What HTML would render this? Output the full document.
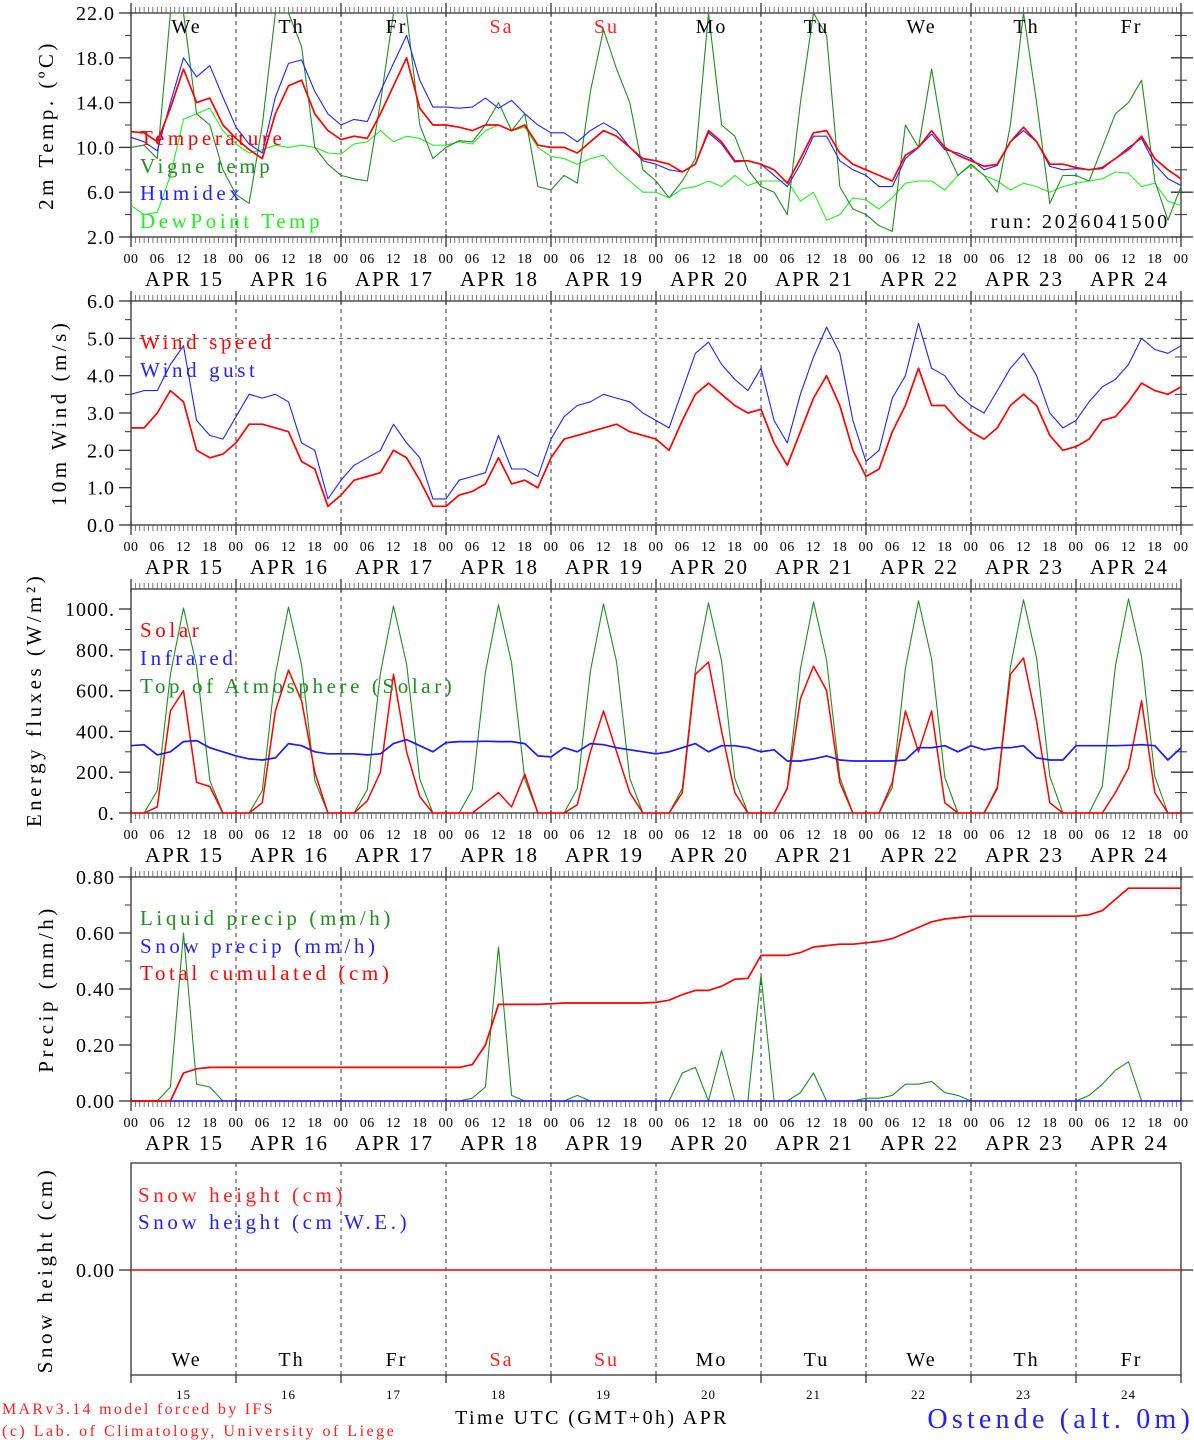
<!DOCTYPE html>
<html><head><meta charset="utf-8"><title>Ostende meteogram</title>
<style>
html,body{margin:0;padding:0;background:#fff;}
svg{display:block;font-family:"Liberation Serif","DejaVu Serif",serif;}
</style></head>
<body>
<svg id="chart" width="1194" height="1440" viewBox="0 0 1194 1440" xmlns="http://www.w3.org/2000/svg"></svg>
<script>
// ---- data (3-hourly from APR 15 00 UTC) ----
const dates = ["APR 15","APR 16","APR 17","APR 18","APR 19","APR 20","APR 21","APR 22","APR 23","APR 24"];
const dayNames = ["We","Th","Fr","Sa","Su","Mo","Tu","We","Th","Fr"];
const dayNums = ["15","16","17","18","19","20","21","22","23","24"];
const hourLabels = ["00","06","12","18"];
const tempTicks = [2,6,10,14,18,22];
const windTicks = [0,1,2,3,4,5,6];
const fluxTicks = [0,200,400,600,800,1000];
const precipTicks = [0,0.2,0.4,0.6,0.8];

const temperature = [11.4,11.3,10.5,13.5,17.0,14.0,14.4,12.0, 10.8,9.8,9.0,13.0,15.5,16.0,13.0,11.5, 10.7,11.0,10.8,13.0,15.5,18.0,13.5,12.0, 12.0,11.8,11.5,12.0,12.0,11.5,12.0,10.2, 10.0,10.0,9.5,10.5,11.5,11.0,10.0,9.0, 8.8,8.5,7.8,8.5,11.5,10.5,8.8,8.8, 8.5,8.0,6.8,9.0,11.3,11.5,9.5,8.5, 8.0,7.5,7.0,9.3,10.0,11.5,10.0,9.3, 8.8,8.3,8.5,10.5,11.8,10.5,8.5,8.5, 8.2,8.0,8.2,9.0,9.8,11.0,9.0,8.0,7.2];
const humidex = [10.9,10.5,9.7,14.0,18.0,16.3,17.3,14.5, 11.8,10.3,9.5,14.5,17.5,17.8,15.0,13.0, 12.0,12.5,12.3,15.0,17.5,20.0,16.0,13.6, 13.6,13.5,13.6,14.4,13.5,14.2,13.0,12.0, 11.3,11.3,10.5,11.5,12.2,11.5,10.0,8.8, 8.5,8.0,7.8,8.5,11.3,10.3,8.7,8.8, 8.5,7.5,6.5,8.5,11.0,11.0,8.8,8.0, 7.5,6.5,6.5,9.0,10.0,11.2,9.8,9.5, 9.0,8.0,8.4,10.5,11.5,10.5,8.3,8.0, 8.1,8.0,8.1,9.0,10.0,10.8,8.5,7.2,6.6];
const vigneTemp = [10.0,10.2,9.0,24,24,13.0,12.0,8.0, 5.8,5.0,12.0,24,24,19.0,10.0,8.5, 7.5,7.2,7.0,14.0,22.0,24,12.0,9.0, 10.0,10.6,10.5,12.0,14.0,11.5,13.0,6.5, 6.2,7.5,6.8,15.0,20.5,17.0,14.0,8.0, 7.0,5.5,7.0,9.0,24,12.0,11.0,8.0, 6.5,6.0,4.0,14.0,24,20.0,6.5,4.5, 4.0,3.0,2.5,12.0,10.0,17.0,10.0,7.5, 8.5,7.5,6.0,12.0,24,14.0,5.0,7.5, 7.5,7.0,10.0,13.0,14.0,16.0,7.0,3.5,6.5];
const dewPoint = [4.8,4.0,4.2,7.5,12.5,13.0,13.5,11.5, 10.3,9.5,9.8,10.2,10.0,10.2,10.0,9.5, 9.4,10.3,10.5,11.5,10.5,11.0,10.8,10.2, 10.2,10.5,10.3,11.5,12.0,11.5,11.8,10.0, 9.2,9.0,8.5,9.0,9.3,8.0,7.0,6.0, 6.0,5.5,6.3,6.5,7.0,6.5,7.5,6.6, 7.0,7.0,7.0,5.2,6.0,3.5,4.0,5.5, 5.3,4.5,5.5,6.8,7.0,7.0,6.2,7.5, 8.4,7.5,7.0,6.2,6.8,6.5,6.0,6.5, 6.8,7.0,7.2,7.8,7.7,6.5,6.8,5.2,4.8];

const windSpeed = [2.6,2.6,3.0,3.6,3.3,2.0,1.8,1.9, 2.2,2.7,2.7,2.6,2.5,1.7,1.5,0.5, 0.8,1.2,1.3,1.4,2.0,1.8,1.2,0.5, 0.5,0.8,0.9,1.1,1.8,1.1,1.2,1.0, 1.8,2.3,2.4,2.5,2.6,2.7,2.5,2.4, 2.3,2.0,2.8,3.5,3.8,3.5,3.2,3.0, 3.1,2.2,1.6,2.5,3.4,4.0,3.2,2.0, 1.3,1.5,2.5,3.2,4.2,3.2,3.2,2.8, 2.5,2.3,2.6,3.2,3.5,3.2,2.4,2.0, 2.1,2.3,2.8,2.9,3.3,3.8,3.6,3.5,3.7];
const windGust = [3.5,3.6,3.6,4.3,4.8,2.8,2.4,2.3, 2.9,3.5,3.4,3.5,3.3,2.2,2.0,0.7, 1.2,1.6,1.8,2.0,2.7,2.2,1.8,0.7, 0.7,1.2,1.3,1.4,2.4,1.5,1.5,1.3, 2.3,2.9,3.2,3.3,3.5,3.4,3.3,3.0, 2.8,2.6,3.6,4.6,4.9,4.3,3.9,3.6, 4.2,2.8,2.2,3.5,4.5,5.3,4.6,2.8, 1.7,2.0,3.4,4.0,5.4,4.2,4.0,3.5, 3.2,3.0,3.6,4.2,4.6,4.0,3.0,2.6, 2.8,3.3,3.7,3.9,4.3,5.0,4.7,4.6,4.8];

const solar = [0,0,30,500,600,150,130,0, 0,0,50,500,700,550,200,0, 0,0,60,200,680,300,80,0, 0,0,0,50,100,30,190,0, 0,0,40,300,500,300,100,0, 0,0,100,680,740,400,100,0, 0,0,120,560,720,600,150,0, 0,0,150,500,300,500,50,0, 0,0,120,680,760,450,50,0, 0,0,0,100,220,550,100,0,0];
const infrared = [330,335,285,300,350,355,320,300, 280,265,260,270,340,330,300,290, 290,290,285,290,340,360,330,300, 345,350,350,352,350,350,340,280, 275,320,300,340,335,320,310,300, 290,300,320,340,300,330,330,320, 300,310,255,255,265,280,260,255, 255,255,255,260,320,320,330,300, 330,310,320,320,330,270,260,260, 330,330,330,330,332,335,330,260,320];
const toaSolar = [0,0,110,680,1005,720,160,0, 0,0,110,680,1010,725,160,0, 0,0,115,685,1015,730,165,0, 0,0,115,690,1020,735,165,0, 0,0,120,695,1025,740,170,0, 0,0,120,700,1030,745,170,0, 0,0,125,705,1035,750,175,0, 0,0,125,710,1040,755,175,0, 0,0,130,715,1045,760,180,0, 0,0,130,720,1050,765,180,0,0];

const liquidPrecip = [0,0,0,0.05,0.6,0.06,0.05,0, 0,0,0,0,0,0,0,0, 0,0,0,0,0,0,0,0, 0,0,0.01,0.05,0.55,0.02,0,0, 0,0,0.02,0,0,0,0,0, 0,0,0.1,0.12,0,0.18,0,0, 0.45,0,0,0.03,0.1,0,0,0, 0.01,0.01,0.02,0.06,0.06,0.07,0.03,0.02, 0,0,0,0,0,0,0,0, 0,0.02,0.06,0.11,0.14,0,0,0,0];
const snowPrecip = new Array(81).fill(0);
const totalCum = [0,0,0,0,0.1,0.115,0.12,0.12, 0.12,0.12,0.12,0.12,0.12,0.12,0.12,0.12, 0.12,0.12,0.12,0.12,0.12,0.12,0.12,0.12, 0.12,0.12,0.13,0.2,0.345,0.345,0.345,0.345, 0.347,0.35,0.35,0.35,0.35,0.35,0.35,0.35, 0.352,0.36,0.38,0.395,0.395,0.41,0.435,0.438, 0.52,0.52,0.52,0.53,0.55,0.555,0.56,0.56, 0.565,0.57,0.58,0.6,0.62,0.64,0.65,0.655, 0.66,0.66,0.66,0.66,0.66,0.66,0.66,0.66, 0.66,0.665,0.68,0.72,0.76,0.76,0.76,0.76,0.76];
const snowHeight = new Array(81).fill(0);

// ---- layout ----
const NS="http://www.w3.org/2000/svg";
const svg=document.getElementById('chart');
const X0=131, X1=1181, DAYW=105;
const STEP=3;
function xh(h){return X0+h*DAYW/24;}
function el(tag,attrs,parent){const e=document.createElementNS(NS,tag);for(const k in attrs)e.setAttribute(k,attrs[k]);(parent||svg).appendChild(e);return e;}
function txt(s,x,y,size,color,anchor,parent,ls){const t=el('text',{x:x,y:y,'font-size':size,fill:color,'text-anchor':anchor||'start'},parent);if(ls)t.setAttribute('letter-spacing',ls);t.textContent=s;return t;}
function makeY(v0,p0,v1,p1){return v=>p0+(v-v0)*(p1-p0)/(v1-v0);}

const panels=[
 {name:'temp',top:13,bot:237,y:makeY(2,237,22,13)},
 {name:'wind',top:301,bot:525,y:makeY(0,525,6,301)},
 {name:'flux',top:589,bot:813,y:makeY(0,813,1000,609)},
 {name:'precip',top:877,bot:1101,y:makeY(0,1101,0.8,877)},
 {name:'snow',top:1163,bot:1375,y:v=>1270}
];

function frame(p,hourTicks){
  const g=el('g',{});
  
  
  el('rect',{x:X0,y:p.top,width:X1-X0,height:p.bot-p.top,fill:'none',stroke:'#333','stroke-width':1.3},g);
  for(let d=1;d<10;d++){
    el('line',{x1:xh(d*24),y1:p.top,x2:xh(d*24),y2:p.bot,stroke:'#333','stroke-width':1,'stroke-dasharray':'4,4'},g);
  }
  if(hourTicks){
    for(let h=0;h<=240;h++){
      const x=xh(h);
      if(h%24===0){
        el('line',{x1:x,y1:p.top-10,x2:x,y2:p.top+3,stroke:'#333','stroke-width':1.3},g);
        el('line',{x1:x,y1:p.bot-3,x2:x,y2:p.bot+10,stroke:'#333','stroke-width':1.3},g);
      } else {
        el('line',{x1:x,y1:p.top,x2:x,y2:p.top-6,stroke:'#555','stroke-width':0.8},g);
        el('line',{x1:x,y1:p.bot,x2:x,y2:p.bot+6,stroke:'#555','stroke-width':0.8},g);
      }
    }
    const lg=el('g',{});
    
    
    for(let d=0;d<10;d++){
      for(let k=0;k<4;k++){txt(hourLabels[k],xh(d*24+k*6),p.bot+26,14,'#000','middle',lg,'0.5');}
      txt(dates[d],xh(d*24+12)+1,p.bot+49,21,'#000','middle',lg,'2');
    }
    txt(hourLabels[0],xh(240),p.bot+26,14,'#000','middle',lg,'0.5');
  }
}
function yAxis(p,ticks,fmt,minorStep){
  const g=el('g',{});
  
  
  ticks.forEach(v=>{
    const y=p.y(v);
    el('line',{x1:X0-12,y1:y,x2:X0,y2:y,stroke:'#333','stroke-width':1.3},g);
    el('line',{x1:X1-10,y1:y,x2:X1+12,y2:y,stroke:'#333','stroke-width':1.3},g);
    txt(fmt(v),X0-16,y+7,20,'#000','end',g,'1');
  });
  if(minorStep){
    for(let i=0;i<ticks.length-1;i++){
      const y=p.y(ticks[i]+minorStep);
      el('line',{x1:X0-6,y1:y,x2:X0,y2:y,stroke:'#333','stroke-width':1},g);
      el('line',{x1:X1-6,y1:y,x2:X1+6,y2:y,stroke:'#333','stroke-width':1},g);
    }
  }
}
function series(p,arr,color,w,name,clipTop){
  const pts=arr.map((v,i)=>{let y=p.y(v);if(clipTop!==undefined)y=Math.max(y,clipTop);return xh(i*STEP).toFixed(1)+','+y.toFixed(1);}).join(' ');
  const l=el('polyline',{points:pts,fill:'none',stroke:color,'stroke-width':w,'stroke-linejoin':'round'});
  
  
  return l;
}
function ytitle(s,x,cy){
  const t=txt(s,x,cy,21,'#000','middle',null,'3.5');
  t.setAttribute('transform','rotate(-90 '+x+' '+cy+')');
  return t;
}
function legend(s,y,color,name){
  const t=txt(s,140,y,21,color,'start',null,'3.6');
  
  
}

// Panel 1: temperature
const P1=panels[0];
frame(P1,true);
yAxis(P1,tempTicks,v=>v.toFixed(1),2);
series(P1,dewPoint,'#22ee22',1.1,'dewpoint-line');
series(P1,vigneTemp,'#228b22',1.1,'vigne-temp-line',P1.top);
series(P1,humidex,'#2222ff',1.1,'humidex-line');
series(P1,temperature,'#ff0000',1.7,'temperature-line');
dayNames.forEach((n,d)=>{const t=txt(n,xh(d*24+12)+3,33,20,(d===3||d===4)?'#ff2020':'#000','middle',null,'2');});
legend('Temperature',145,'#ff0000','legend-temperature');
legend('Vigne temp',173,'#228b22','legend-vigne-temp');
legend('Humidex',200,'#2222ff','legend-humidex');
legend('DewPoint Temp',228,'#22ee22','legend-dewpoint');
const run=txt('run: 2026041500',1170,228,20,'#000','end',null,'2.8');
const yt1=ytitle('2m Temp. (ºC)',53,125);

// Panel 2: wind
const P2=panels[1];
frame(P2,true);
yAxis(P2,windTicks,v=>v.toFixed(1),0.5);
const ref=el('line',{x1:X0,y1:P2.y(5),x2:X1,y2:P2.y(5),stroke:'#555','stroke-width':1,'stroke-dasharray':'4,4'});

series(P2,windGust,'#2222ff',1.1,'wind-gust-line');
series(P2,windSpeed,'#ff0000',1.7,'wind-speed-line');
legend('Wind speed',349,'#ff0000','legend-wind-speed');
legend('Wind gust',377,'#2222ff','legend-wind-gust');
const yt2=ytitle('10m Wind (m/s)',66,413);

// Panel 3: energy fluxes
const P3=panels[2];
frame(P3,true);
yAxis(P3,fluxTicks,v=>v===0?'0.':v+'.',100);
series(P3,toaSolar,'#228b22',1.1,'toa-solar-line');
series(P3,solar,'#ff0000',1.5,'solar-line');
series(P3,infrared,'#1a1aff',1.7,'infrared-line');
legend('Solar',637,'#ff0000','legend-solar');
legend('Infrared',665,'#2222ff','legend-infrared');
legend('Top of Atmosphere (Solar)',693,'#228b22','legend-toa');
const yt3=ytitle('Energy fluxes (W/m²)',41,700);

// Panel 4: precip
const P4=panels[3];
frame(P4,true);
yAxis(P4,precipTicks,v=>v.toFixed(2),0.1);
series(P4,liquidPrecip,'#228b22',1.1,'liquid-precip-line');
series(P4,snowPrecip,'#2222ff',1.5,'snow-precip-line');
series(P4,totalCum,'#ff0000',1.7,'total-cumulated-line');
legend('Liquid precip (mm/h)',925,'#228b22','legend-liquid-precip');
legend('Snow precip (mm/h)',953,'#2222ff','legend-snow-precip');
legend('Total cumulated (cm)',980,'#ff0000','legend-total-cumulated');
const yt4=ytitle('Precip (mm/h)',53,989);

// Panel 5: snow
const P5=panels[4];
frame(P5,false);
for(let d=0;d<=10;d++){el('line',{x1:xh(d*24),y1:P5.bot,x2:xh(d*24),y2:P5.bot+8,stroke:'#333','stroke-width':1.3});}
el('line',{x1:X0-12,y1:1270,x2:X0,y2:1270,stroke:'#333','stroke-width':1.3});
el('line',{x1:X1,y1:1270,x2:X1+12,y2:1270,stroke:'#333','stroke-width':1.3});
txt('0.00',X0-16,1277,20,'#000','end',null,'1');
series(P5,snowHeight,'#ff2020',1.7,'snow-height-line');
const shl=txt('Snow height (cm)',138,1202,21,'#ff2020','start',null,'3.6');
const shw=txt('Snow height (cm W.E.)',138,1229,21,'#2222ff','start',null,'3.6');
const yt5=ytitle('Snow height (cm)',52,1270);
dayNames.forEach((n,d)=>{
  const t=txt(n,xh(d*24+12)+3,1366,20,(d===3||d===4)?'#ff2020':'#000','middle',null,'2');
  
  const u=txt(dayNums[d],xh(d*24+12),1399,13,'#000','middle',null,'1');
  
});
const xt=txt('Time UTC (GMT+0h) APR',592,1424,20,'#000','middle',null,'2.4');
const f1=txt('MARv3.14 model forced by IFS',2,1414,16,'#ff2020','start',null,'2.3');
const f2=txt('(c) Lab. of Climatology, University of Liege',2,1436,16,'#ff2020','start',null,'2.5');
const st=txt('Ostende (alt. 0m)',1194,1428,28,'#2222ff','end',null,'4.2');
</script>
</body></html>
